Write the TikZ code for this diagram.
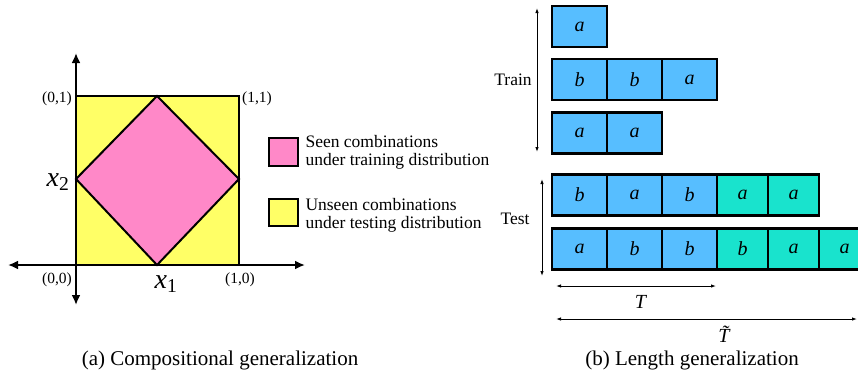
\documentclass[tikz,border=0pt]{standalone}
\usepackage{fontspec}
\setmainfont{Liberation Serif}
\usetikzlibrary{arrows.meta,positioning}
\definecolor{cellblue}{RGB}{87,190,255}
\definecolor{cellteal}{RGB}{25,227,205}
\definecolor{seenpink}{RGB}{255,136,200}
\definecolor{unseenyellow}{RGB}{255,255,102}
\tikzset{
	cell/.style={draw, line width=2.5pt, inner sep=0pt, outer sep=0pt, minimum height=41pt, font=\fontsize{20}{24}\selectfont\itshape},
	blucell/.style={cell, fill=cellblue, minimum width=55pt},
	tealcell/.style={cell, fill=cellteal, minimum width=51pt},
	span/.style={{Latex[length=5pt,width=3.5pt]}-{Latex[length=5pt,width=3.5pt]}, line width=0.9pt},
	axis/.style={{Latex[length=10pt,width=9pt]}-{Latex[length=10pt,width=9pt]}, line width=2.5pt},
	lbl/.style={font=\fontsize{17.5}{18}\selectfont},
	corner/.style={font=\fontsize{15.5}{16}\selectfont},
	caption/.style={font=\fontsize{21}{24}\selectfont}
}

\begin{document}
\begin{tikzpicture}[x=1pt, y=-1pt]
			%%%%% START %%%%%
			\useasboundingbox (0,0) rectangle (858,373);
			\clip (0,0) rectangle (858,373);
			
			% (a) unit square
			\draw[line width=2.5pt, fill=unseenyellow] (76,96) rectangle (239,265);
			\draw[line width=2pt, fill=seenpink, line join=miter] (157,96) -- (239,179) -- (157,265) -- (76,179) -- cycle;
			
			\coordinate (xl) at (8,265);
			\coordinate (xr) at (305,265);
			\coordinate (yt) at (76,53);
			\coordinate (yb) at (76,305);
			\draw[axis] (xl) -- (xr);
			\draw[axis] (yt) -- (yb);
			
			\node[corner] (c01) at (57,99) {(0,1)};
			\node[corner] (c11) at (257,99) {(1,1)};
			\node[corner] (c00) at (57,280) {(0,0)};
			\node[corner] (c10) at (240,280) {(1,0)};
			\node[font=\fontsize{28}{30}\selectfont] (x2) at (58,182) {\textit{x}\textsubscript{2}};
			\node[font=\fontsize{28}{30}\selectfont] (x1) at (166,284) {\textit{x}\textsubscript{1}};
			
			% legend
			\draw[line width=2.5pt, fill=seenpink] (269,138) rectangle (298,166);
			\draw[line width=2.5pt, fill=unseenyellow] (269,199) rectangle (298,226);
			\node[lbl, anchor=west, align=left] (seen) at (302,152.5) {Seen combinations\\under training distribution};
			\node[lbl, anchor=west, align=left] (unseen) at (302,215) {Unseen combinations\\under testing distribution};
			
			% (b) sequences
			\node[blucell, anchor=west] (r1c1) at (552,26.5) {a};
			
			\node[blucell, anchor=west] (r2c1) at (552,79.5) {b};
			\node[blucell, right=0pt of r2c1] (r2c2) {b};
			\node[blucell, right=0pt of r2c2] (r2c3) {a};
			
			\node[blucell, anchor=west] (r3c1) at (552,133) {a};
			\node[blucell, right=0pt of r3c1] (r3c2) {a};
			
			\node[blucell, anchor=west] (r4c1) at (552,195) {b};
			\node[blucell, right=0pt of r4c1] (r4c2) {a};
			\node[blucell, right=0pt of r4c2] (r4c3) {b};
			\node[tealcell, right=0pt of r4c3] (r4c4) {a};
			\node[tealcell, right=0pt of r4c4] (r4c5) {a};
			
			\node[blucell, anchor=west] (r5c1) at (552,249) {a};
			\node[blucell, right=0pt of r5c1] (r5c2) {b};
			\node[blucell, right=0pt of r5c2] (r5c3) {b};
			\node[tealcell, right=0pt of r5c3] (r5c4) {b};
			\node[tealcell, right=0pt of r5c4] (r5c5) {a};
			\node[tealcell, right=0pt of r5c5] (r5c6) {a};
			
			% spans
			\coordinate (trtop) at (537,8);
			\coordinate (trbot) at (537,152);
			\draw[span] (trtop) -- (trbot);
			\node[lbl] (train) at (513,80) {Train};
			
			\coordinate (tetop) at (542,179);
			\coordinate (tebot) at (542,276);
			\draw[span] (tetop) -- (tebot);
			\node[lbl] (test) at (515,219) {Test};
			
			\coordinate (tl) at (556,286);
			\coordinate (tr) at (716,286);
			\draw[span] (tl) -- (tr);
			\node[font=\fontsize{20}{22}\selectfont] (tlen) at (641,302) {\textit{T}};
			
			\coordinate (ttl) at (556,319);
			\coordinate (ttr) at (857,319);
			\draw[span] (ttl) -- (ttr);
			\node[font=\fontsize{20}{22}\selectfont] (ttlen) at (728,334) {\textit{\~T}};
			
			% captions
			\node[caption] (capa) at (220,360) {(a) Compositional generalization};
			\node[caption] (capb) at (692,360) {(b) Length generalization};
			%%%%% END %%%%%
\end{tikzpicture}
\end{document}
